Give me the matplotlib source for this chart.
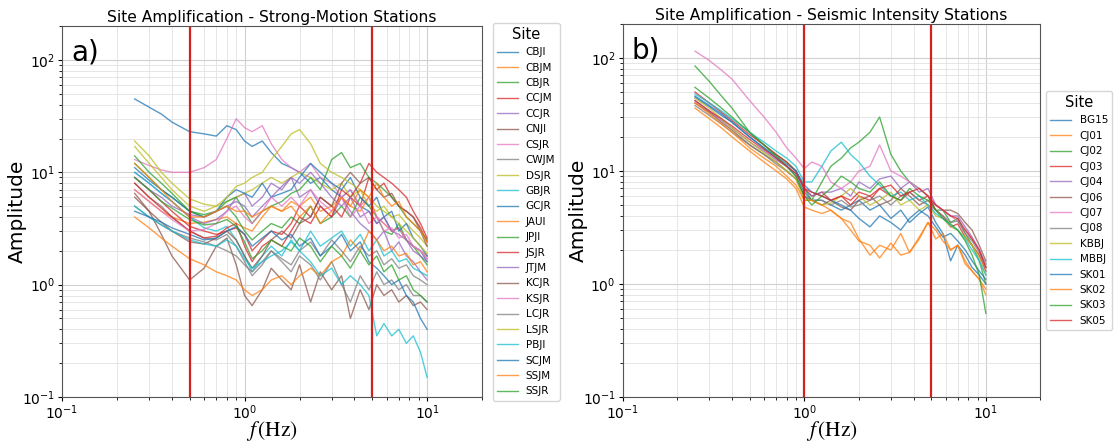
import matplotlib
matplotlib.use("Agg")
import matplotlib.pyplot as plt
from matplotlib.ticker import LogLocator

# ---------------- data ----------------
freq = [0.25, 0.3, 0.35, 0.4, 0.5, 0.6, 0.7, 0.8, 0.9, 1.0, 1.1, 1.25, 1.4, 1.6, 1.8,
        2.0, 2.3, 2.6, 3.0, 3.4, 3.8, 4.3, 4.8, 5.3, 5.8, 6.4, 7.0, 7.7, 8.4, 9.2, 10.0]

sites_a = ["CBJI", "CBJM", "CBJR", "CCJM", "CCJR", "CNJI", "CSJR", "CWJM", "DSJR", "GBJR",
           "GCJR", "JAUI", "JPJI", "JSJR", "JTJM", "KCJR", "KSJR", "LCJR", "LSJR", "PBJI",
           "SCJM", "SSJM", "SSJR"]

CBJI = [45, 38, 33, 28, 23, 22, 21, 26, 24, 19, 17, 19, 15, 12, 11, 10, 8, 9, 7, 6, 7, 5, 4.5, 3.5, 4, 3, 3.2, 2.5, 2.2, 2.0, 1.6]
CBJM = [7, 5.5, 4.5, 4, 3.5, 3.6, 3.8, 4, 3.5, 3.2, 3, 4, 5, 4.5, 5.5, 5, 6, 4.5, 5, 6, 5, 4.5, 6, 4, 3.5, 3, 3.2, 2.5, 2.2, 2, 1.8]
CBJR = [12, 9, 7, 6, 4.5, 4.2, 4.5, 5, 4, 3, 2.5, 3, 3.5, 3.2, 4, 3.5, 5, 3.5, 4, 5, 4, 6, 5, 4, 3, 2.8, 3.5, 2.5, 2.2, 1.8, 1.5]
CCJM = [9, 7, 5.5, 4.5, 3.3, 3, 2.8, 3, 3.2, 2.8, 2.0, 2.5, 3, 2.8, 3.5, 5, 4, 6, 5, 4, 6, 5, 9, 7, 8, 6, 5, 4.5, 4, 3.2, 2.4]
CCJR = [10, 8, 6.5, 5.5, 4, 3.5, 3.8, 4.5, 6, 6.5, 5, 6, 8, 7, 9, 6, 7, 5, 4, 6, 4.5, 3.5, 3, 2.5, 3, 2, 2.4, 1.8, 1.6, 1.3, 1.1]
CNJI = [6.5, 4.5, 2.8, 1.8, 1.1, 1.4, 2.2, 2.6, 1.5, 0.8, 0.65, 0.9, 1.4, 1.1, 0.9, 1.5, 0.7, 1.3, 0.9, 1.2, 0.5, 0.9, 0.6, 1.0, 0.8, 0.9, 0.7, 0.8, 0.65, 0.7, 0.6]
CSJR = [13, 11.5, 10.5, 10, 10, 11, 13, 20, 30, 25, 23, 26, 18, 13, 11, 10, 12, 9, 8, 6, 7, 5, 6, 4, 3.5, 3, 3.2, 2.5, 2.2, 2.0, 1.7]
CWJM = [8, 6, 5, 4, 3, 2.6, 2.5, 2.8, 2.2, 1.6, 1.2, 1.5, 2, 1.6, 1.3, 1.8, 1.5, 1.1, 1.6, 1.0, 0.7, 1.2, 0.9, 1.3, 1.0, 1.1, 0.9, 1.0, 0.8, 0.8, 0.7]
DSJR = [19, 14, 10, 8, 5.8, 5.2, 5, 5.5, 6, 6.5, 7, 8, 9, 8, 9, 10, 9, 8, 7, 8, 6, 7, 5, 4.5, 5, 4, 4.2, 3.5, 3, 2.6, 2.2]
GBJR = [10, 8, 6.5, 5.5, 4, 3.2, 3, 3.3, 2.5, 1.8, 1.3, 1.8, 2.2, 1.8, 2.5, 2.0, 3, 2.2, 2.6, 3, 2.2, 2.8, 2, 2.5, 1.8, 2, 1.6, 1.7, 1.4, 1.3, 1.2]
GCJR = [11, 8.5, 7, 6, 4.5, 4, 4.5, 6, 7, 6.5, 6, 8, 6, 6.5, 7, 9, 12, 10, 8, 7, 9, 6, 5, 6, 4, 4.5, 3, 3.5, 2.6, 2.2, 1.8]
JAUI = [4, 3.2, 2.6, 2.2, 1.7, 1.5, 1.3, 1.2, 1.1, 0.9, 0.8, 0.9, 1.1, 1.2, 1.0, 1.2, 1.4, 1.2, 1.6, 1.8, 2.5, 2, 3, 2.5, 2.0, 2.2, 1.8, 1.9, 1.5, 1.6, 1.3]
JPJI = [14, 10, 8, 6.5, 4.5, 4, 4.5, 5.5, 6, 4.5, 3.5, 4.5, 5, 5.5, 6.5, 7, 9, 7, 13, 15, 11, 12, 9, 8, 7, 6, 5, 4, 3.5, 3, 2.5]
JSJR = [8, 6, 4.8, 4, 3, 2.6, 2.7, 3.2, 3.5, 2.2, 1.6, 2.2, 2.5, 2.2, 3, 4, 3.5, 5, 4, 7, 6, 8, 12, 10, 9, 8, 7, 6, 4.5, 3.5, 2.6]
JTJM = [9, 7, 6, 5, 4.2, 4, 4.5, 5, 5.5, 5, 4, 5, 6, 7.5, 9, 8, 10, 8, 6, 5, 6, 4, 4.5, 3.5, 4, 3, 2.8, 2.5, 2, 1.8, 1.6]
KCJR = [6, 4.5, 3.6, 3, 2.4, 2.3, 2.6, 3, 2.5, 1.8, 1.4, 1.8, 2.5, 3, 2.6, 3.5, 4, 6, 5, 8, 10, 8, 9, 7, 6, 6.5, 5, 4.5, 4, 3, 2.2]
KSJR = [7, 5.5, 4.5, 3.8, 3, 3.1, 3.5, 4.5, 5, 4, 3.5, 4.5, 6, 5, 6, 5, 7, 5.5, 4.5, 6, 4, 5, 3.5, 4, 3, 3.2, 2.6, 2.8, 2.2, 2.0, 1.7]
LCJR = [5, 4, 3.4, 3, 2.6, 2.4, 2.2, 2.0, 1.8, 1.5, 1.3, 1.6, 2.0, 1.7, 1.5, 2.0, 2.4, 1.8, 2.5, 2.0, 1.6, 2.2, 1.8, 2.0, 1.5, 1.7, 1.4, 1.5, 1.2, 1.1, 1.0]
LSJR = [17, 12, 9, 7, 5, 4.5, 5, 6, 7.5, 8, 9, 10, 13, 17, 22, 24, 18, 12, 10, 9, 8, 7, 6, 5, 4.5, 4, 3.5, 3, 2.6, 2.2, 1.9]
PBJI = [5, 4, 3.4, 3, 2.5, 2.3, 2.2, 2.5, 2.2, 1.7, 1.4, 1.6, 1.8, 2.0, 2.4, 2.0, 1.6, 1.2, 1.4, 1.0, 1.2, 1.0, 0.8, 0.35, 0.45, 0.35, 0.4, 0.3, 0.35, 0.25, 0.15]
SCJM = [4.5, 4, 3.6, 3.2, 2.8, 2.5, 2.6, 3, 3.3, 2.8, 2.2, 2.6, 3, 2.5, 2.8, 2.2, 2.6, 1.8, 2.2, 2.8, 2, 2.4, 1.6, 1.4, 1.2, 1.0, 1.1, 0.8, 0.7, 0.5, 0.4]
SSJM = [12, 9, 7, 5.5, 4, 4, 4.5, 5, 4.5, 4.5, 4, 4.5, 5, 4.5, 5, 4, 5, 3.5, 4.5, 6, 5, 7, 6, 8, 6, 5, 5.5, 4, 3.5, 3, 2.4]
SSJR = [9, 7, 5.5, 4.8, 3.8, 3.4, 3.5, 3.8, 3.3, 2.4, 1.7, 2.0, 2.5, 2.2, 2.0, 2.6, 2.2, 1.6, 2.2, 1.8, 1.4, 2.0, 1.5, 1.8, 1.3, 1.5, 1.1, 1.2, 0.9, 0.8, 0.7]

amps_a = [CBJI, CBJM, CBJR, CCJM, CCJR, CNJI, CSJR, CWJM, DSJR, GBJR, GCJR, JAUI, JPJI,
          JSJR, JTJM, KCJR, KSJR, LCJR, LSJR, PBJI, SCJM, SSJM, SSJR]

sites_b = ["BG15", "CJ01", "CJ02", "CJ03", "CJ04", "CJ06", "CJ07", "CJ08", "KBBJ", "MBBJ",
           "SK01", "SK02", "SK03", "SK05"]

BG15 = [45, 37, 31, 27, 20, 16, 13, 11, 9, 6.5, 5.5, 5.5, 5, 4.5, 5, 5.5, 4.5, 5, 3.8, 4.5, 3.5, 4.2, 4.8, 3.5, 2.8, 1.6, 2.2, 1.8, 1.4, 1.2, 1.0]
CJ01 = [36, 29, 24, 20, 15, 12, 10, 8.5, 7, 4.8, 4.5, 4.2, 4.5, 3.8, 3.5, 2.5, 1.8, 2.2, 2.0, 2.8, 1.9, 2.5, 3.5, 3.0, 2.4, 2.0, 2.2, 1.6, 1.3, 1.1, 0.9]
CJ02 = [85, 62, 46, 36, 22, 17, 14, 12, 10, 7, 5.5, 8, 11, 13, 16, 18, 22, 30, 14, 10, 8, 7, 6, 4.5, 4.5, 3.5, 3.8, 2.8, 2.2, 1.6, 1.0]
CJ03 = [50, 40, 33, 28, 21, 17, 14, 12, 10, 7, 6, 6.5, 5.5, 6, 5, 6, 5.5, 7, 6, 5.5, 6.5, 5.5, 6, 4.5, 4, 3.2, 3.4, 2.6, 2.2, 1.8, 1.3]
CJ04 = [42, 34, 28, 24, 18, 15, 12.5, 11, 9.5, 7, 6, 6.5, 6.5, 7, 6, 8, 7, 8.5, 9, 7, 8, 6.5, 7, 5, 4.5, 4, 4, 3.2, 2.6, 2.0, 1.5]
CJ06 = [40, 33, 27, 23, 17, 14, 12, 10, 8.5, 6, 5.5, 5, 5.5, 4.8, 4.5, 5.5, 6, 5, 5.5, 7, 6, 5, 5.5, 5, 4.5, 4.5, 4.2, 3.5, 3, 2.2, 1.6]
CJ07 = [115, 95, 78, 65, 42, 30, 22, 16, 13, 10.5, 12, 11, 8, 7, 8, 10, 11, 17, 10, 9, 8, 7, 6, 5, 4.5, 4, 3.6, 3, 2.5, 2.0, 1.4]
CJ08 = [38, 31, 26, 22, 17, 14, 11.5, 10, 8.5, 6, 5.5, 5.5, 5, 5.5, 4.8, 5, 5.5, 6, 5, 6, 6.5, 5.5, 5, 4.5, 4, 3.5, 3.6, 2.8, 2.4, 1.9, 1.4]
KBBJ = [44, 36, 29, 24, 18, 14.5, 12, 10, 8.5, 5.5, 5.5, 5, 5.2, 6, 7, 6, 5, 5.5, 6.5, 5, 5.5, 4.5, 5, 4, 3.8, 3.2, 3.0, 2.6, 2.2, 1.7, 1.2]
MBBJ = [48, 40, 34, 29, 22, 18, 15, 13, 11, 8, 8, 11, 15, 18, 14, 12, 9, 7.5, 6, 6.5, 5.5, 6, 5, 4.2, 3.8, 3.3, 3.0, 2.5, 2.0, 1.6, 1.2]
SK01 = [46, 38, 32, 27, 20, 16, 13.5, 11.5, 10, 7.5, 6.5, 6, 5.5, 5, 4.5, 3.8, 3.2, 4, 3.5, 3, 3.8, 4.5, 4, 3.2, 2.6, 2.8, 2.4, 2.0, 1.6, 1.3, 1.1]
SK02 = [40, 32, 26, 22, 16, 13, 11, 9, 7.5, 5.5, 5.5, 5, 4.5, 3.8, 3, 2.4, 2.2, 1.7, 2.3, 1.8, 1.9, 2.6, 3.5, 2.5, 2.8, 2.0, 2.2, 1.5, 1.3, 1.1, 0.8]
SK03 = [55, 44, 36, 30, 22, 17, 13.5, 11, 9, 6, 5, 6, 7, 9, 8, 7, 6.5, 8, 6, 5.5, 7, 6, 5.5, 4.5, 3.8, 3.4, 3.0, 2.4, 1.8, 1.2, 0.55]
SK05 = [42, 34, 29, 25, 19, 15.5, 13, 11, 9.5, 7, 6.5, 6, 5.5, 6, 5.5, 6.5, 6, 7, 7.5, 6, 6.5, 7, 6, 5, 4.5, 4.0, 3.8, 3.0, 2.5, 2.0, 1.4]

amps_b = [BG15, CJ01, CJ02, CJ03, CJ04, CJ06, CJ07, CJ08, KBBJ, MBBJ, SK01, SK02, SK03, SK05]

vlines_a = [0.5, 5.0]
vlines_b = [1.0, 5.0]

titles = ["Site Amplification - Strong-Motion Stations",
          "Site Amplification - Seismic Intensity Stations"]
panel_labels = ["a)", "b)"]

# ---------------- plot ----------------
plt.rcParams['mathtext.fontset'] = 'stix'
fig = plt.figure(figsize=(11.14, 4.44), dpi=100)
ax_a = fig.add_axes([0.0557, 0.106, 0.377, 0.835])
ax_b = fig.add_axes([0.559, 0.106, 0.375, 0.84])

panels = [(ax_a, sites_a, amps_a, vlines_a, 1.025),
          (ax_b, sites_b, amps_b, vlines_b, 1.014)]

colors = plt.rcParams['axes.prop_cycle'].by_key()['color']
for i, (ax, sites, amps, vls, lx) in enumerate(panels):
    for j, (s, a) in enumerate(zip(sites, amps)):
        ax.plot(freq, a, color=colors[j % 10], lw=1.0, alpha=0.75, label=s)
    for v in vls:
        ax.axvline(v, color='#d62020', lw=1.6)
    ax.set_xscale('log')
    ax.set_yscale('log')
    ax.set_xlim(0.1, 20)
    ax.set_ylim(0.1, 200)
    ax.xaxis.set_minor_locator(LogLocator(base=10, subs=range(2, 10), numticks=20))
    ax.yaxis.set_minor_locator(LogLocator(base=10, subs=range(2, 10), numticks=20))
    ax.grid(True, which='major', color='#d0d0d0', lw=0.8)
    ax.grid(True, which='minor', color='#e2e2e2', lw=0.6)
    ax.set_axisbelow(True)
    for sp in ax.spines.values():
        sp.set_color('#555555')
    ax.tick_params(labelsize=10, pad=2, length=3)
    ax.tick_params(which='minor', length=2)
    ax.set_title(titles[i], fontsize=11.2, pad=3)
    ax.set_xlabel(r'$f\,(\mathrm{Hz})$', fontsize=15.5)
    ax.xaxis.set_label_coords(0.5, -0.059)
    ax.set_ylabel('Amplitude', fontsize=14.5)
    ax.yaxis.set_label_coords(-0.083, 0.5)
    ax.text(0.022, 0.93, panel_labels[i], transform=ax.transAxes, fontsize=20,
            va='center', ha='left')
    leg = ax.legend(title='Site', loc='center left', bbox_to_anchor=(lx, 0.5),
                    fontsize=7.5, title_fontsize=10.5, handlelength=2.0,
                    handletextpad=0.8, borderpad=0.4,
                    borderaxespad=0.0, labelspacing=0.52)
    for h in leg.get_lines():
        h.set_linewidth(1.0)

fig.savefig('out.png', dpi=100)
